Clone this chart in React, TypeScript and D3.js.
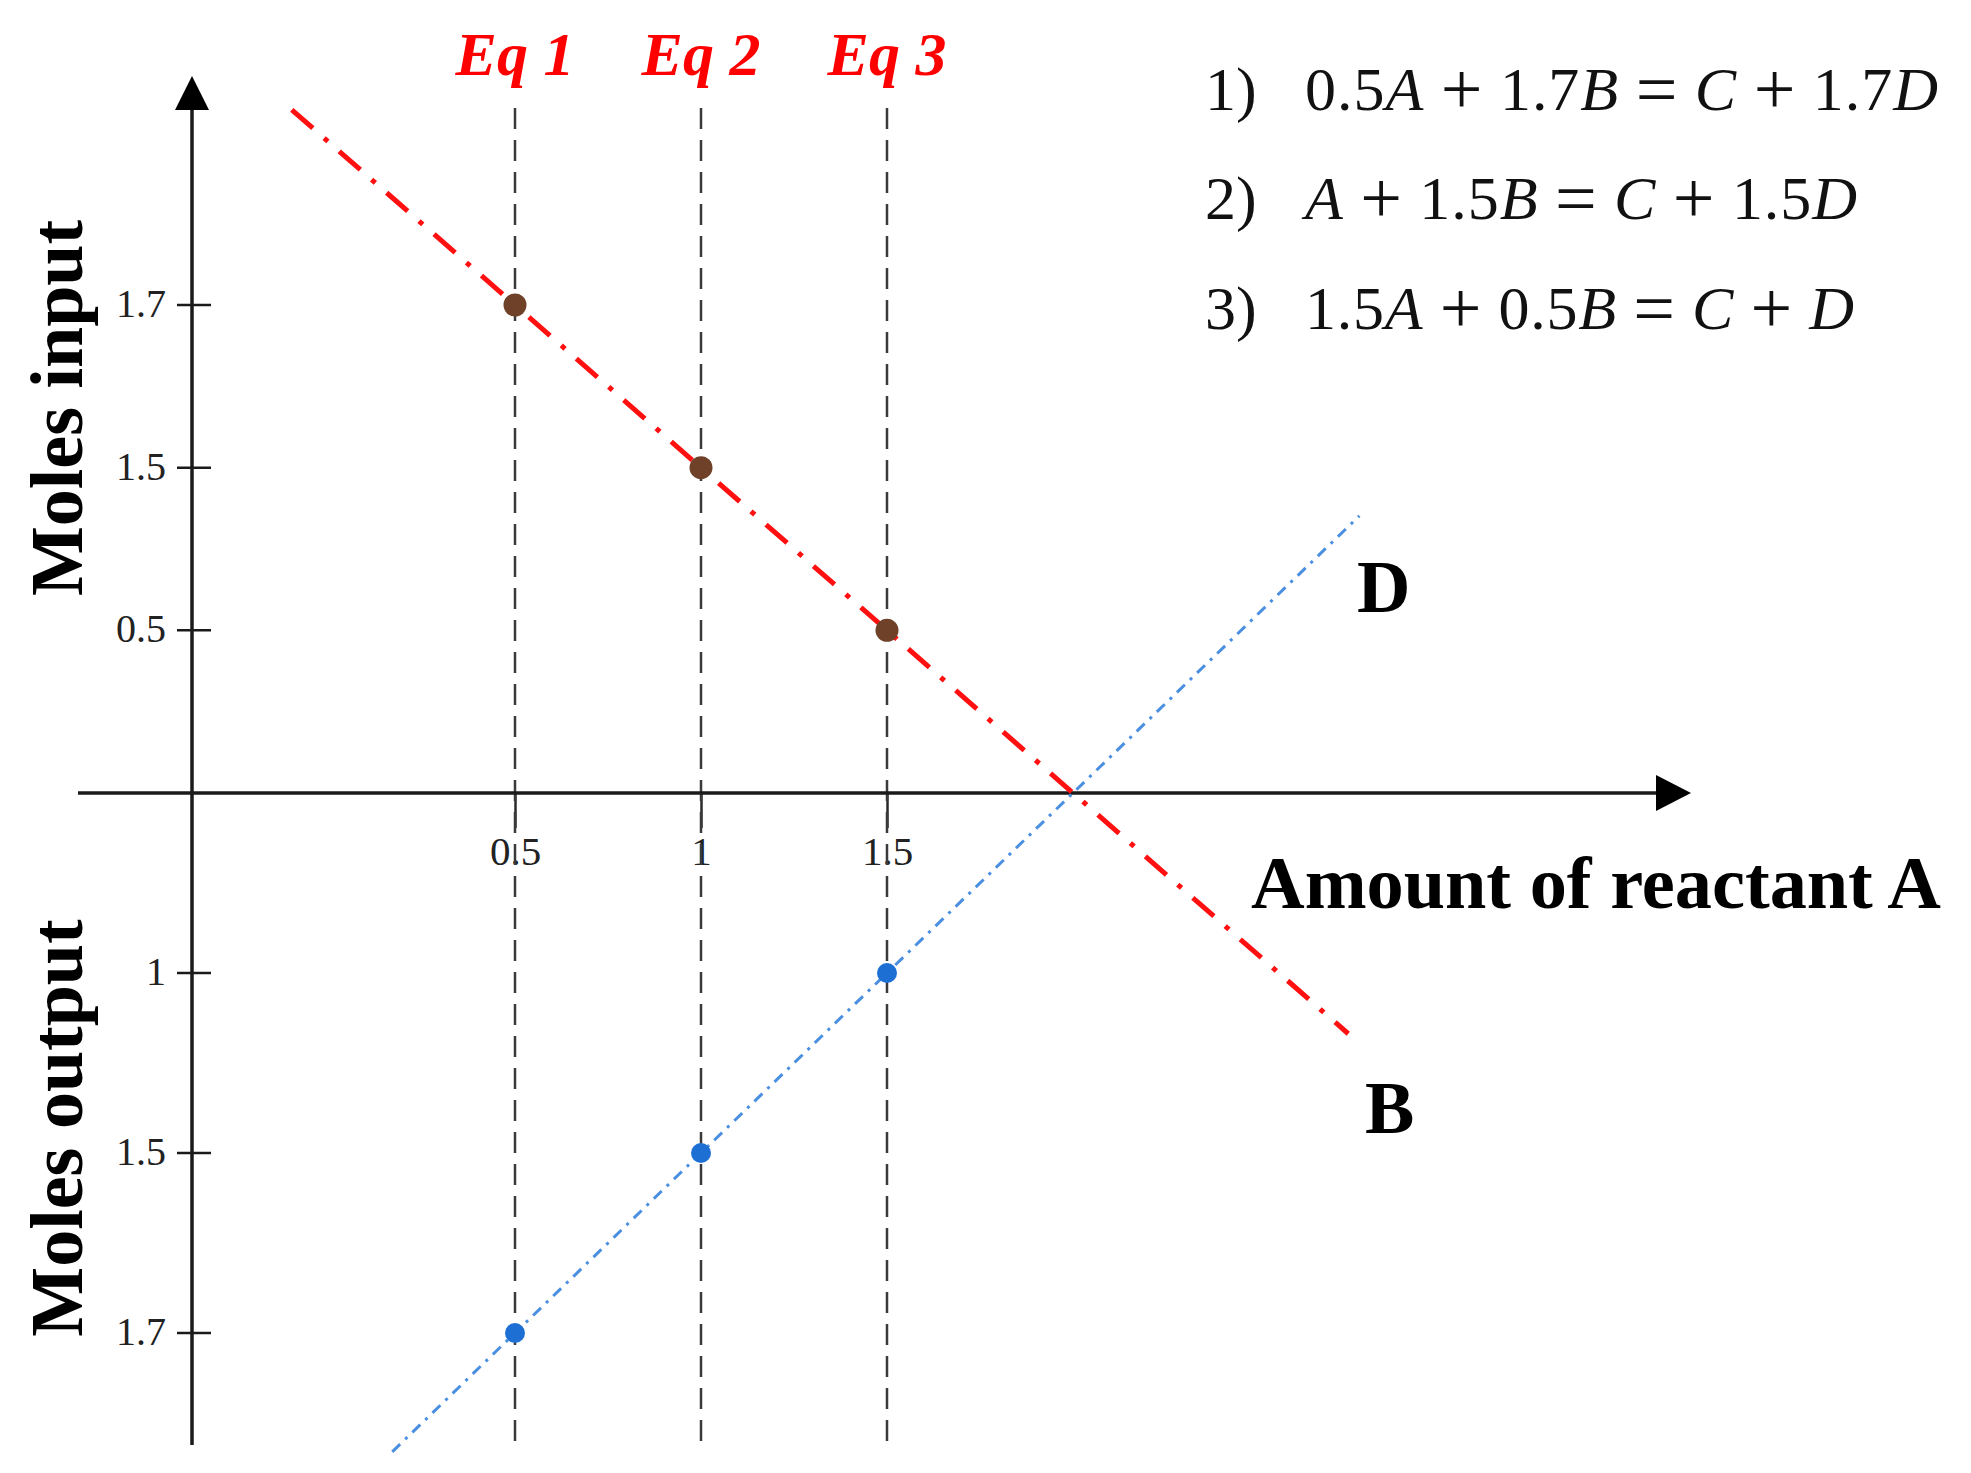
import { useRef, useEffect } from "react";
import * as d3 from "d3";

// ---- data ----
const equationNames = ["Eq 1", "Eq 2", "Eq 3"];
const amountA = [0.5, 1, 1.5];
const amountALabels = ["0.5", "1", "1.5"];
const inputTicks = ["0", "0.5", "1.5", "1.7"];
const outputTicks = ["0", "1", "1.5", "1.7"];
const molesB = ["1.7", "1.5", "0.5"]; // reactant B fed, per equation
const molesD = ["1.7", "1.5", "1"]; // product D formed, per equation
const spanB = [-0.1, 2.74]; // how far the B trend line is drawn, in units of A
const spanD = [0.17, 2.77];
const equationNumbers = ["1)", "2)", "3)"];
const equations = ["0.5A + 1.7B = C + 1.7D", "A + 1.5B = C + 1.5D", "1.5A + 0.5B = C + D"];

export default function App() {
	const ref = useRef<HTMLDivElement>(null);

	useEffect(() => {
		const width = 1971;
		const height = 1473;
		const axisX = 192;
		const axisY = 793;
		const serif = "'Liberation Serif', 'Times New Roman', serif";

		d3.select(ref.current).selectAll("*").remove();

		const svg = d3
			.select(ref.current)
			.append("svg")
			.attr("width", width)
			.attr("height", height)
			.style("display", "block")
			.style("background", "#fff");

		// ---- Scales ----
		const x = d3.scaleLinear().domain([0.5, 1.5]).range([515, 887]);
		const yIn = d3.scalePoint<string>().domain(inputTicks).range([axisY, 305]);
		const yOut = d3.scalePoint<string>().domain(outputTicks).range([axisY, 1333]);

		// ---- X ticks + labels (the dashed guides are drawn over them) ----
		const xAxis = svg
			.append("g")
			.attr("transform", `translate(0,${axisY})`)
			.call(
				d3
					.axisBottom(x)
					.tickValues(amountA)
					.tickSize(35)
					.tickPadding(8)
					.tickFormat((d, i) => amountALabels[i])
			);
		xAxis.select(".domain").remove();
		xAxis.selectAll("line").attr("stroke", "#2a2a2a").attr("stroke-width", 2.5);
		xAxis
			.selectAll("text")
			.attr("font-family", serif)
			.attr("font-size", 41)
			.attr("fill", "#222");

		// ---- Vertical dashed guides ----
		svg.selectAll(".guide")
			.data(amountA)
			.enter()
			.append("line")
			.attr("x1", (d) => x(d))
			.attr("x2", (d) => x(d))
			.attr("y1", 108)
			.attr("y2", 1452)
			.attr("stroke", "#3a3a3a")
			.attr("stroke-width", 2.5)
			.attr("stroke-dasharray", "21 11");

		// ---- Axes with arrows ----
		svg.append("line")
			.attr("x1", axisX)
			.attr("x2", axisX)
			.attr("y1", 100)
			.attr("y2", 1445)
			.attr("stroke", "#1a1a1a")
			.attr("stroke-width", 3.5);
		svg.append("path")
			.attr("d", `M${axisX},76 L${axisX - 17},110 L${axisX + 17},110 Z`)
			.attr("fill", "#000");

		svg.append("line")
			.attr("x1", 78)
			.attr("x2", 1665)
			.attr("y1", axisY)
			.attr("y2", axisY)
			.attr("stroke", "#1a1a1a")
			.attr("stroke-width", 3.5);
		svg.append("path")
			.attr("d", `M1691,${axisY} L1656,${axisY - 18} L1656,${axisY + 18} Z`)
			.attr("fill", "#000");

		// ---- Y ticks (input above, output below) ----
		const yTicks = [
			...inputTicks.slice(1).map((t) => ({ label: t, y: yIn(t) as number })),
			...outputTicks.slice(1).map((t) => ({ label: t, y: yOut(t) as number })),
		];
		const tg = svg.selectAll(".ytick").data(yTicks).enter().append("g");
		tg.append("line")
			.attr("x1", axisX - 15)
			.attr("x2", axisX + 19)
			.attr("y1", (d) => d.y)
			.attr("y2", (d) => d.y)
			.attr("stroke", "#1a1a1a")
			.attr("stroke-width", 2.5);
		tg.append("text")
			.attr("x", 166)
			.attr("y", (d) => d.y + 12)
			.attr("text-anchor", "end")
			.attr("font-family", serif)
			.attr("font-size", 40)
			.attr("fill", "#222")
			.text((d) => d.label);

		// ---- Trend lines ----
		const extended = (pts: [number, number][], span: number[]) => {
			const [p0, p1] = [pts[0], pts[pts.length - 1]];
			const slope = (p1[1] - p0[1]) / (p1[0] - p0[0]);
			return span.map((v) => {
				const px = x(v);
				return [px, p0[1] + (px - p0[0]) * slope] as [number, number];
			});
		};

		const ptsB: [number, number][] = amountA.map((a, i) => [x(a), yIn(molesB[i]) as number]);
		const ptsD: [number, number][] = amountA.map((a, i) => [x(a), yOut(molesD[i]) as number]);
		const line = d3.line();

		svg.append("path")
			.attr("d", line(extended(ptsD, spanD)))
			.attr("fill", "none")
			.attr("stroke", "#4a8fe0")
			.attr("stroke-width", 3)
			.attr("stroke-dasharray", "11 7 3 7");

		svg.append("path")
			.attr("d", line(extended(ptsB, spanB)))
			.attr("fill", "none")
			.attr("stroke", "#ff1010")
			.attr("stroke-width", 5)
			.attr("stroke-dasharray", "28 15 5 15");

		// ---- Points ----
		svg.selectAll(".ptB")
			.data(ptsB)
			.enter()
			.append("circle")
			.attr("cx", (d) => d[0])
			.attr("cy", (d) => d[1])
			.attr("r", 11.5)
			.attr("fill", "#6e4128");

		svg.selectAll(".ptD")
			.data(ptsD)
			.enter()
			.append("circle")
			.attr("cx", (d) => d[0])
			.attr("cy", (d) => d[1])
			.attr("r", 10)
			.attr("fill", "#1d6fd4");

		// ---- Labels ----
		svg.selectAll(".eqname")
			.data(equationNames)
			.enter()
			.append("text")
			.attr("x", (d, i) => x(amountA[i]))
			.attr("y", 75)
			.attr("text-anchor", "middle")
			.attr("font-family", serif)
			.attr("font-size", 62)
			.attr("font-weight", "bold")
			.attr("font-style", "italic")
			.attr("fill", "#ff0000")
			.text((d) => d);

		const bold = (t: string, tx: number, ty: number, rot = 0) =>
			svg.append("text")
				.attr("transform", `translate(${tx},${ty}) rotate(${rot})`)
				.attr("font-family", serif)
				.attr("font-size", 74)
				.attr("font-weight", "bold")
				.attr("fill", "#000")
				.text(t);

		bold("Moles input", 82, 408, -90).attr("text-anchor", "middle");
		bold("Moles output", 82, 1128, -90).attr("text-anchor", "middle");
		bold("Amount of reactant A", 1251, 908).attr("textLength", 690).attr("lengthAdjust", "spacingAndGlyphs");
		bold("D", 1357, 612);
		bold("B", 1365, 1133);

		// ---- Equations ----
		const eqBase = [110, 219, 329];
		const eqWidth = [633, 552, 549];
		equations.forEach((eq, i) => {
			svg.append("text")
				.attr("x", 1205)
				.attr("y", eqBase[i])
				.attr("font-family", serif)
				.attr("font-size", 62)
				.attr("fill", "#111")
				.text(equationNumbers[i]);

			const t = svg.append("text")
				.attr("x", 1305)
				.attr("y", eqBase[i])
				.attr("font-family", serif)
				.attr("font-size", 62)
				.attr("fill", "#111")
				.attr("textLength", eqWidth[i])
				.attr("lengthAdjust", "spacing");
			eq.split(/([A-D]|[+=])/).filter((s) => s.length).forEach((s) => {
				const isVar = /^[A-D]$/.test(s);
				const isOp = /^[+=]$/.test(s);
				t.append("tspan")
					.attr("font-style", isVar ? "italic" : "normal")
					.attr("font-size", isOp ? 74 : 62)
					.attr("baseline-shift", isOp ? "-4px" : null)
					.attr("xml:space", "preserve")
					.text(s);
			});
		});
	}, []);

	return <div ref={ref} style={{ position: "absolute", left: 0, top: 0 }} />;
}
